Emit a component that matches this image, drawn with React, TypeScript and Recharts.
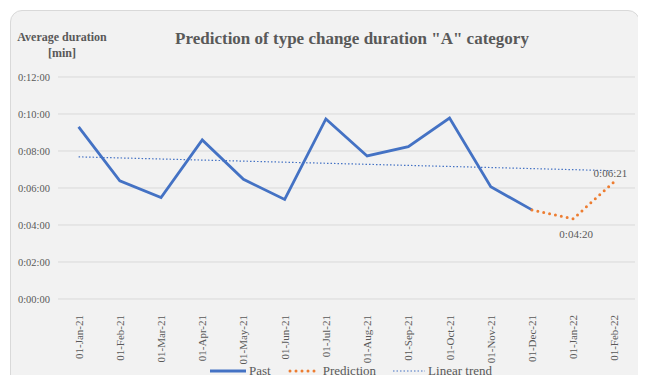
import React from 'react';
import { LineChart, Line, XAxis, YAxis, CartesianGrid } from 'recharts';

const months = [
  '01-Jan-21', '01-Feb-21', '01-Mar-21', '01-Apr-21', '01-May-21', '01-Jun-21', '01-Jul-21',
  '01-Aug-21', '01-Sep-21', '01-Oct-21', '01-Nov-21', '01-Dec-21', '01-Jan-22', '01-Feb-22',
];

// durations in seconds
const pastSeconds = [558, 383, 329, 516, 388, 323, 584, 464, 494, 587, 364, 289, null, null];
const predictionSeconds = [null, null, null, null, null, null, null, null, null, null, null, 289, 260, 381];
const trendSeconds = [461, null, null, null, null, null, null, null, null, null, null, null, null, 416];

const yTicks = [0, 120, 240, 360, 480, 600, 720];

const data = months.map((m, i) => ({
  name: m,
  past: pastSeconds[i],
  prediction: predictionSeconds[i],
  trend: trendSeconds[i],
}));

const BLUE = '#4472C4';
const ORANGE = '#ED7D31';
const TEXT = '#595959';
const FONT = '"Liberation Serif", "Times New Roman", serif';

const fmt = (s: number) => {
  const m = Math.floor(s / 60);
  const sec = Math.round(s % 60);
  return `0:${String(m).padStart(2, '0')}:${String(sec).padStart(2, '0')}`;
};

const XTick = (props: any) => {
  const { x, y, payload } = props;
  return (
    <text
      x={x}
      y={y}
      transform={`rotate(-90 ${x} ${y})`}
      textAnchor="end"
      dy={4}
      dx={-8}
      fontSize={11}
      fontFamily={FONT}
      fill={TEXT}
    >
      {payload.value}
    </text>
  );
};

const PredLabel = (props: any) => {
  const { x, y, value, index } = props;
  if (index === 12) {
    return (
      <text x={x + 3} y={y + 19} textAnchor="middle" fontSize={11} fontFamily={FONT} fill={TEXT}>
        {fmt(value)}
      </text>
    );
  }
  if (index === 13) {
    return (
      <text x={x - 4} y={y - 5} textAnchor="middle" fontSize={11} fontFamily={FONT} fill={TEXT}>
        {fmt(value)}
      </text>
    );
  }
  return null;
};

export default function App() {
  return (
    <div style={{ position: 'relative', width: 646, height: 383, margin: -8, overflow: 'hidden', background: '#fff' }}>
      <div
        style={{
          position: 'absolute',
          left: 10,
          top: 10,
          width: 628,
          height: 400,
          background: '#f2f2f2',
          border: '1px solid #d9d9d9',
          borderRadius: 12,
        }}
      />
      <div
        style={{
          position: 'absolute',
          top: 29,
          left: 0,
          width: 704,
          textAlign: 'center',
          fontFamily: FONT,
          fontWeight: 'bold',
          fontSize: 17,
          color: TEXT,
        }}
      >
        Prediction of type change duration "A" category
      </div>
      <div
        style={{
          position: 'absolute',
          top: 29,
          left: 8,
          width: 108,
          textAlign: 'center',
          fontFamily: FONT,
          fontWeight: 'bold',
          fontSize: 12,
          lineHeight: '16px',
          color: TEXT,
        }}
      >
        Average duration
        <br />
        [min]
      </div>
      <div style={{ position: 'absolute', left: 0, top: 0 }}>
        <LineChart
          width={646}
          height={383}
          data={data}
          margin={{ top: 77, right: 11, bottom: 24, left: 0 }}
        >
          <CartesianGrid vertical={false} stroke="#d9d9d9" />
          <XAxis
            dataKey="name"
            interval={0}
            tick={<XTick />}
            tickLine={false}
            axisLine={false}
            height={60}
            padding={{ left: 20.6, right: 20.6 }}
          />
          <YAxis
            width={58}
            domain={[0, 720]}
            ticks={yTicks}
            tickFormatter={fmt}
            tickLine={false}
            axisLine={false}
            tickSize={0}
            tickMargin={8}
            tick={{ fontSize: 10.5, fontFamily: FONT, fill: TEXT }}
          />
          <Line
            dataKey="trend"
            stroke={BLUE}
            strokeWidth={1.2}
            strokeDasharray="1.5 2"
            dot={false}
            connectNulls
            isAnimationActive={false}
          />
          <Line
            dataKey="past"
            stroke={BLUE}
            strokeWidth={2.8}
            dot={false}
            strokeLinejoin="miter"
            isAnimationActive={false}
          />
          <Line
            dataKey="prediction"
            stroke={ORANGE}
            strokeWidth={3}
            strokeDasharray="0 6"
            strokeLinecap="round"
            dot={false}
            label={<PredLabel />}
            isAnimationActive={false}
          />
        </LineChart>
      </div>
      <div
        style={{
          position: 'absolute',
          top: 363,
          left: 0,
          width: 646,
          display: 'flex',
          justifyContent: 'center',
          alignItems: 'center',
          gap: 17,
          fontFamily: FONT,
          fontSize: 13,
          color: TEXT,
          paddingLeft: 56,
          boxSizing: 'border-box',
        }}
      >
        <span style={{ display: 'flex', alignItems: 'center', gap: 3 }}>
          <svg width={36} height={6}>
            <line x1={0} y1={3} x2={36} y2={3} stroke={BLUE} strokeWidth={2.8} />
          </svg>
          Past
        </span>
        <span style={{ display: 'flex', alignItems: 'center', gap: 3 }}>
          <svg width={32} height={6}>
            <line x1={2} y1={3} x2={32} y2={3} stroke={ORANGE} strokeWidth={3} strokeDasharray="0 6" strokeLinecap="round" />
          </svg>
          Prediction
        </span>
        <span style={{ display: 'flex', alignItems: 'center', gap: 3 }}>
          <svg width={32} height={6}>
            <line x1={0} y1={3} x2={32} y2={3} stroke={BLUE} strokeWidth={1.2} strokeDasharray="1.5 2" />
          </svg>
          Linear trend
        </span>
      </div>
    </div>
  );
}
